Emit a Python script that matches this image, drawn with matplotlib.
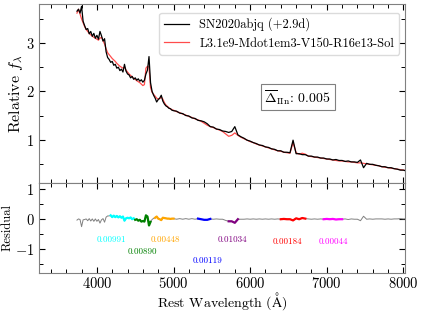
import numpy as np
import matplotlib
matplotlib.use("Agg")
import matplotlib.pyplot as plt
from matplotlib.ticker import MultipleLocator

plt.rcParams["font.family"] = "serif"
plt.rcParams["font.serif"] = ["cmr10"]
plt.rcParams["mathtext.fontset"] = "cm"
plt.rcParams["axes.formatter.use_mathtext"] = True

# wavelength grid (Angstrom)
wave = np.concatenate([np.arange(3740, 5000, 20), np.arange(5000, 8041, 40)])

# observed spectrum, SN2020abjq (+2.9d)
obs_flux = [
    3.66, 3.70, 3.62, 3.76, 3.45, 3.36, 3.28, 3.30, 3.19, 3.24,
    3.14, 3.20, 3.10, 3.16, 3.08, 3.24, 3.15, 3.04, 3.09, 2.82,
    2.70, 2.66, 2.60, 2.62, 2.54, 2.56, 2.48, 2.50, 2.43, 2.46,
    2.40, 2.56, 2.42, 2.36, 2.34, 2.28, 2.31, 2.25, 2.28, 2.23,
    2.26, 2.21, 2.24, 2.19, 2.23, 2.36, 2.44, 2.72, 2.18, 2.00,
    1.92, 1.86, 1.78, 1.83, 1.86, 1.92, 1.80, 1.74, 1.70, 1.68,
    1.65, 1.64, 1.61,
    1.60, 1.59, 1.55, 1.54, 1.50, 1.49, 1.45, 1.44, 1.40, 1.39,
    1.37, 1.33, 1.27, 1.26, 1.22, 1.21, 1.18, 1.17, 1.15, 1.17,
    1.27, 1.10, 1.06, 1.03, 0.99, 0.97, 0.94, 0.92, 0.89, 0.88,
    0.85, 0.84, 0.81, 0.80, 0.77, 0.77, 0.74, 0.74, 0.73, 0.99,
    0.71, 0.71, 0.69, 0.69, 0.66, 0.66, 0.64, 0.64, 0.62, 0.62,
    0.60, 0.60, 0.58, 0.59, 0.57, 0.57, 0.55, 0.56, 0.54, 0.54,
    0.53, 0.58, 0.42, 0.51, 0.49, 0.49, 0.47, 0.46, 0.44, 0.44,
    0.42, 0.42, 0.40, 0.39, 0.37, 0.37, 0.35,
]

# model spectrum
model_flux = [
    3.62, 3.70, 3.60, 3.50, 3.42, 3.34, 3.28, 3.24, 3.20, 3.17,
    3.14, 3.12, 3.10, 3.08, 3.06, 3.10, 3.12, 3.05, 2.98, 2.88,
    2.80, 2.76, 2.72, 2.68, 2.65, 2.62, 2.58, 2.55, 2.52, 2.50,
    2.48, 2.50, 2.44, 2.40, 2.36, 2.33, 2.30, 2.27, 2.25, 2.22,
    2.20, 2.18, 2.15, 2.12, 2.14, 2.48, 2.52, 2.50, 2.08, 1.98,
    1.94, 1.90, 1.86, 1.84, 1.85, 1.88, 1.84, 1.77, 1.72, 1.69,
    1.66, 1.64, 1.62,
    1.61, 1.58, 1.56, 1.53, 1.51, 1.48, 1.46, 1.43, 1.41, 1.38,
    1.34, 1.30, 1.27, 1.25, 1.22, 1.20, 1.17, 1.12, 1.07, 1.09,
    1.14, 1.09, 1.05, 1.02, 0.99, 0.96, 0.94, 0.91, 0.89, 0.87,
    0.85, 0.83, 0.81, 0.79, 0.77, 0.76, 0.74, 0.73, 0.72, 0.94,
    0.73, 0.70, 0.72, 0.70, 0.66, 0.65, 0.64, 0.63, 0.62, 0.61,
    0.60, 0.59, 0.58, 0.57, 0.56, 0.56, 0.55, 0.54, 0.54, 0.53,
    0.52, 0.52, 0.51, 0.50, 0.49, 0.48, 0.47, 0.46, 0.44, 0.43,
    0.42, 0.41, 0.40, 0.39, 0.38, 0.37, 0.36,
]

obs_flux = np.array(obs_flux)
model_flux = np.array(model_flux)
resid = model_flux - obs_flux

# line windows used for the residual metric
windows = [(4180, 4480), (4490, 4710), (4760, 5000), (5320, 5480),
           (5720, 5840), (6400, 6720), (6960, 7200)]
win_colors = ["cyan", "green", "orange", "blue", "purple", "red", "magenta"]
win_values = ["0.00991", "0.00890", "0.00448", "0.00119", "0.01034", "0.00184", "0.00044"]
label_pos = [(4190, -0.69), (4588, -1.09), (4892, -0.69), (5446, -1.39),
             (5775, -0.69), (6489, -0.78), (7087, -0.78)]

fig = plt.figure(figsize=(4.24, 3.14), dpi=100)
gs = fig.add_gridspec(2, 1, height_ratios=[2, 1], hspace=0,
                      left=0.093, right=0.955, top=0.986, bottom=0.132)
ax = fig.add_subplot(gs[0])
axr = fig.add_subplot(gs[1], sharex=ax)

ax.plot(wave, obs_flux, color="black", lw=0.9, zorder=3, label="SN2020abjq (+2.9d)")
ax.plot(wave, model_flux, color="red", lw=0.9, alpha=0.7, zorder=2,
        label="L3.1e9-Mdot1em3-V150-R16e13-Sol")
ax.legend(loc="upper right", fontsize=9, edgecolor="lightgrey",
          bbox_to_anchor=(0.995, 0.975), borderaxespad=0.3)
ax.text(6623, 1.88, r"$\overline{\Delta}_{\rm IIn}$: 0.005", fontsize=10,
        ha="center", va="center",
        bbox=dict(boxstyle="square,pad=0.25", fc="white", ec="grey", lw=0.8))
ax.set_ylabel(r"Relative $f_\lambda$", fontsize=11.5, labelpad=1)
ax.set_ylim(0.1, 3.8)
ax.yaxis.set_major_locator(MultipleLocator(1))
ax.yaxis.set_minor_locator(MultipleLocator(0.5))
ax.tick_params(labelbottom=False)

axr.plot(wave, resid, color="grey", lw=0.7)
for (lo, hi), c, v, (lx, ly) in zip(windows, win_colors, win_values, label_pos):
    m = (wave >= lo) & (wave <= hi)
    axr.plot(wave[m], resid[m], color=c, lw=1.6)
    axr.text(lx, ly, v, color=c, fontsize=6.5, ha="center", va="center")
axr.set_ylim(-1.8, 1.2)
axr.yaxis.set_major_locator(MultipleLocator(1))
axr.yaxis.set_minor_locator(MultipleLocator(0.5))
axr.set_ylabel("Residual", fontsize=9, labelpad=1)
axr.set_xlabel(r"Rest Wavelength ($\mathrm{\AA}$)", fontsize=10)
axr.xaxis.set_label_coords(0.5, -0.2)
axr.set_xlim(3250, 8020)
axr.xaxis.set_major_locator(MultipleLocator(1000))
axr.xaxis.set_minor_locator(MultipleLocator(200))

for a in (ax, axr):
    a.tick_params(which="both", direction="in", top=True, right=True, labelsize=10.5)
    a.tick_params(which="major", length=4.5, width=0.8)
    a.tick_params(which="minor", length=3, width=0.7)
    a.tick_params(axis="x", pad=2.5)
    for s in a.spines.values():
        s.set_color("grey")

fig.savefig("out.png", dpi=100)
